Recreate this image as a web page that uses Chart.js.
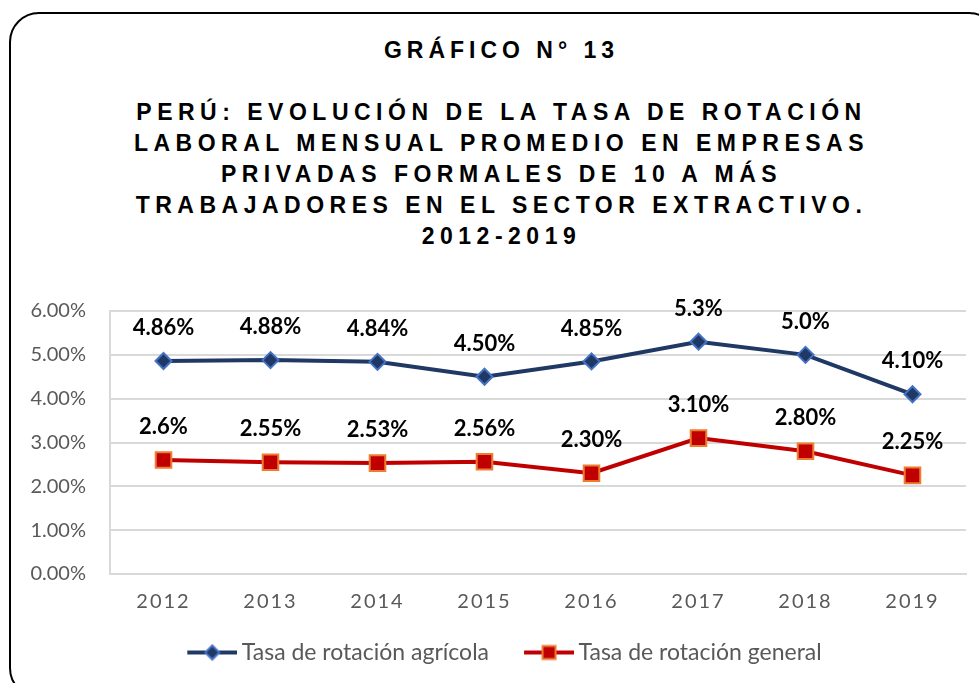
<!DOCTYPE html>
<html>
<head>
<meta charset="utf-8">
<script src="https://cdn.jsdelivr.net/npm/chart.js@4.4.0/dist/chart.umd.min.js"></script>
<style>
  html, body { margin: 0; padding: 0; background: #fff; width: 979px; height: 683px; overflow: hidden; }
  .frame {
    position: absolute; left: 9px; top: 12px; width: 990px; height: 686px;
    border: 2px solid #000; border-radius: 30px; box-sizing: border-box;
  }
  .title {
    position: absolute; left: 0; width: 998px; text-align: center;
    font-family: "Liberation Sans", Arial, sans-serif; font-weight: bold;
    color: #000; font-size: 23px; letter-spacing: 5px; padding-left: 5px; box-sizing: border-box;
  }
  #t1 { top: 37px; }
  #t2 { top: 97px; line-height: 31px; letter-spacing: 5.5px; }
  .wrap { position: absolute; left: 0; top: 0; width: 979px; height: 683px; }
</style>
</head>
<body>
<div class="frame"></div>
<div class="title" id="t1">GRÁFICO N° 13</div>
<div class="title" id="t2">PERÚ: EVOLUCIÓN DE LA TASA DE ROTACIÓN<br>LABORAL MENSUAL PROMEDIO EN EMPRESAS<br>PRIVADAS FORMALES DE 10 A MÁS<br>TRABAJADORES EN EL SECTOR EXTRACTIVO.<br>2012-2019</div>
<div class="wrap"><canvas id="chart" width="979" height="683"></canvas></div>
<script>
// data
const years = ["2012", "2013", "2014", "2015", "2016", "2017", "2018", "2019"];
const agricola = [4.86, 4.88, 4.84, 4.50, 4.85, 5.3, 5.0, 4.10];
const general = [2.6, 2.55, 2.53, 2.56, 2.30, 3.10, 2.80, 2.25];
const agricolaText = ["4.86%", "4.88%", "4.84%", "4.50%", "4.85%", "5.3%", "5.0%", "4.10%"];
const generalText = ["2.6%", "2.55%", "2.53%", "2.56%", "2.30%", "3.10%", "2.80%", "2.25%"];
const seriesNames = ["Tasa de rotación agrícola", "Tasa de rotación general"];

const navy = "#203864";
const red = "#C00000";

// legend swatch: line with marker, drawn on the right part of the image
function swatch(lineColor, fill, stroke, shape) {
  const c = document.createElement("canvas");
  c.width = 66; c.height = 20;
  const g = c.getContext("2d");
  g.strokeStyle = lineColor; g.lineWidth = 4;
  g.beginPath(); g.moveTo(16, 10); g.lineTo(66, 10); g.stroke();
  g.fillStyle = fill; g.strokeStyle = stroke; g.lineWidth = 2;
  g.beginPath();
  if (shape === "diamond") {
    g.moveTo(41, 3); g.lineTo(48, 10); g.lineTo(41, 17); g.lineTo(34, 10); g.closePath();
  } else {
    g.rect(34.5, 3.5, 13, 13);
  }
  g.fill(); g.stroke();
  return c;
}
const swatches = [swatch(navy, navy, "#4472C4", "diamond"), swatch(red, red, "#ED7D31", "square")];

const valueLabels = {
  id: "valueLabels",
  afterDatasetsDraw(chart) {
    const ctx = chart.ctx;
    ctx.save();
    ctx.font = "bold 22px Lato";
    ctx.fillStyle = "#000";
    ctx.textAlign = "center";
    ctx.textBaseline = "middle";
    chart.data.datasets.forEach((ds, i) => {
      chart.getDatasetMeta(i).data.forEach((pt, j) => {
        ctx.fillText(ds.valueText[j], pt.x, pt.y - 33);
      });
    });
    ctx.restore();
  }
};

// spaced-out year labels, legend nudged right
const tweaks = {
  id: "tweaks",
  afterLayout(chart) {
    chart.legend.left = 34;
  },
  beforeDraw(chart) {
    const xs = chart.scales.x;
    if (xs._spaced) return;
    const orig = xs.drawLabels;
    xs.drawLabels = function (area) {
      this.ctx.save();
      this.ctx.letterSpacing = "2px";
      orig.call(this, area);
      this.ctx.restore();
    };
    xs._spaced = true;
  }
};

new Chart(document.getElementById("chart"), {
  type: "line",
  data: {
    labels: years,
    datasets: [
      {
        label: seriesNames[0],
        data: agricola,
        valueText: agricolaText,
        borderColor: navy,
        borderWidth: 4,
        pointStyle: "rectRot",
        pointRadius: 8,
        pointBackgroundColor: navy,
        pointBorderColor: "#4472C4",
        pointBorderWidth: 2,
        tension: 0,
      },
      {
        label: seriesNames[1],
        data: general,
        valueText: generalText,
        borderColor: red,
        borderWidth: 4,
        pointStyle: "rect",
        pointRadius: 11,
        pointBackgroundColor: red,
        pointBorderColor: "#ED7D31",
        pointBorderWidth: 2,
        tension: 0,
      },
    ],
  },
  options: {
    responsive: false,
    animation: false,
    layout: { padding: { left: 0, right: 13, top: 311, bottom: 9 } },
    plugins: {
      tooltip: { enabled: false },
      legend: {
        position: "bottom",
        labels: {
          usePointStyle: true,
          pointStyleWidth: 52,
          padding: 26,
          color: "#595959",
          font: { family: "Lato", size: 23 },
          generateLabels(chart) {
            return chart.data.datasets.map((ds, i) => ({
              text: ds.label,
              pointStyle: swatches[i],
              fillStyle: ds.borderColor,
              strokeStyle: ds.borderColor,
              lineWidth: 0,
              fontColor: "#595959",
              datasetIndex: i,
            }));
          },
        },
      },
    },
    scales: {
      x: {
        offset: true,
        grid: { display: false, drawTicks: false },
        border: { display: true, color: "#d9d9d9", width: 2 },
        ticks: { color: "#595959", font: { family: "Lato", size: 20 }, padding: 16, maxRotation: 0 },
        afterFit(s) { s.height = 41; },
      },
      y: {
        min: 0,
        max: 6,
        grid: { color: "#d9d9d9", lineWidth: 2, drawTicks: false },
        border: { display: true, color: "#d9d9d9", width: 2 },
        ticks: {
          stepSize: 1,
          padding: 24,
          color: "#595959",
          font: { family: "Lato", size: 20 },
          callback: (v) => v.toFixed(2) + "%",
        },
        afterFit(s) { s.width = 110; },
      },
    },
  },
  plugins: [valueLabels, tweaks],
});
</script>
</body>
</html>
